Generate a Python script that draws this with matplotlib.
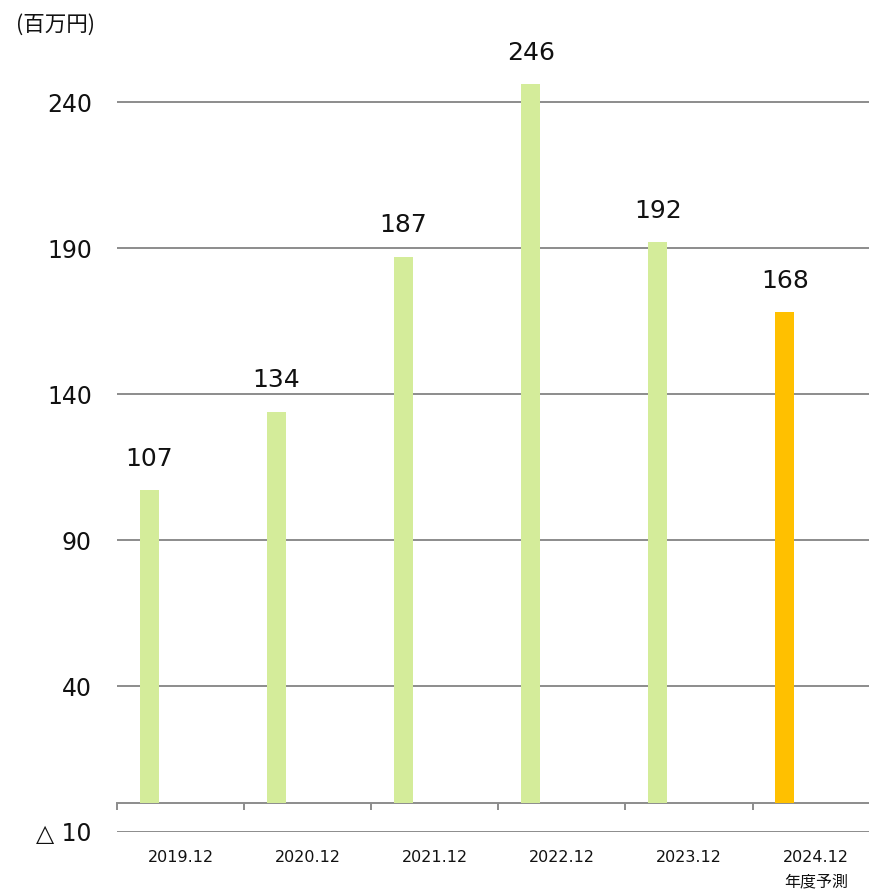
import matplotlib
matplotlib.use("Agg")
import matplotlib.pyplot as plt
from matplotlib.ticker import FixedLocator, NullFormatter

plt.rcParams['font.family'] = ['DejaVu Sans', 'Noto Sans CJK JP']

categories = ["2019.12", "2020.12", "2021.12", "2022.12", "2023.12", "2024.12\n年度予測"]
values = [107, 134, 187, 246, 192, 168]
bar_colors = ["#D4EC9A", "#D4EC9A", "#D4EC9A", "#D4EC9A", "#D4EC9A", "#FFC000"]
yticks = [-10, 40, 90, 140, 190, 240]
ytick_labels = ["△ 10", "40", "90", "140", "190", "240"]
unit_label = "(百万円)"

W, H = 869, 889
fig = plt.figure(figsize=(W / 100, H / 100), dpi=100)
left, right = 117, 879.6
bottom_px, top_px = 832, 43.6
ax = fig.add_axes([left / W, (H - bottom_px) / H, (right - left) / W, (bottom_px - top_px) / H])

n = len(categories)
x = [i + 0.255 for i in range(n)]
ax.bar(x, values, width=0.15, color=bar_colors, zorder=3)

for xi, v in zip(x, values):
    ax.annotate(str(v), (xi, v), xytext=(0, 14), textcoords="offset points",
                ha="center", va="bottom", fontsize=18, color="#111111")

ax.set_xlim(0, n)
ax.set_ylim(-10, 260)

# grid lines
for yv in yticks:
    ax.axhline(yv, color="#8C8C8C", lw=1.4, zorder=1)

ax.set_yticks(yticks)
ax.set_yticklabels(ytick_labels, fontsize=17, color="#111111")
ax.tick_params(axis="y", length=0, pad=18)

# category axis at zero
for s in ["top", "right", "left"]:
    ax.spines[s].set_visible(False)
ax.spines["bottom"].set_position(("data", 0))
ax.spines["bottom"].set_color("#8C8C8C")
ax.spines["bottom"].set_linewidth(1.4)
ax.spines["bottom"].set_zorder(2)
ax.xaxis.set_major_locator(FixedLocator(list(range(n + 1))))
ax.xaxis.set_major_formatter(NullFormatter())
ax.xaxis.set_minor_locator(FixedLocator([i + 0.5 for i in range(n)]))
ax.set_xticklabels(categories, minor=True, fontsize=11.5, color="#111111", va="top",
                   linespacing=1.75)
ax.tick_params(axis="x", which="major", length=5, width=1.4, color="#8C8C8C", direction="out")
ax.tick_params(axis="x", which="minor", length=0, pad=34)

fig.text(16 / W, 1 - 25 / H, unit_label, fontsize=15.5, ha="left", va="center",
         family=["Noto Sans CJK JP", "DejaVu Sans"], color="#111111")

fig.savefig("out.png", dpi=100, facecolor="white")
